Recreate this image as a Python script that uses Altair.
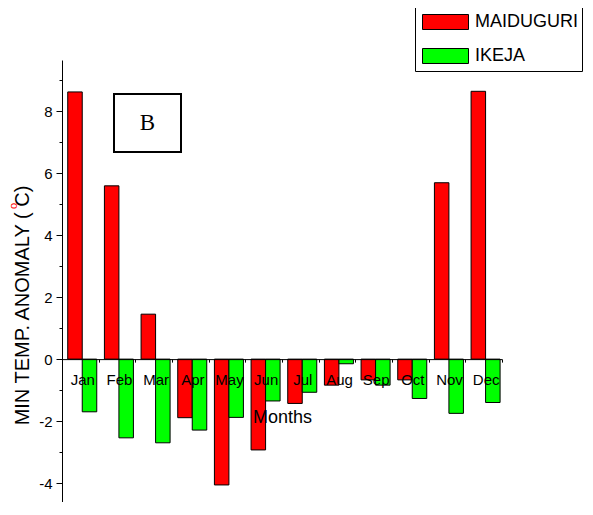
import altair as alt
import pandas as pd

months = ["Jan", "Feb", "Mar", "Apr", "May", "Jun", "Jul", "Aug", "Sep", "Oct", "Nov", "Dec"]
maiduguri = [8.62, 5.59, 1.45, -1.89, -4.06, -2.93, -1.43, -0.84, -0.67, -0.67, 5.69, 8.64]
ikeja = [-1.70, -2.54, -2.70, -2.29, -1.88, -1.35, -1.07, -0.15, -0.84, -1.27, -1.75, -1.40]
series = ["MAIDUGURI", "IKEJA"]
colors = ["#FF0000", "#00FF00"]
y_domain = [-4.61, 9.65]
y_ticks = list(range(-4, 10))
panel_label = ["B"]
degree_mark = ["o"]

SANS = "Liberation Sans, Arial"
SERIF = "Liberation Serif, Times New Roman"

df = pd.DataFrame({
    "Month": months * 2,
    "Series": [series[0]] * 12 + [series[1]] * 12,
    "Value": maiduguri + ikeja,
})

W, H = 440, 442
zero_off = H * (0 - y_domain[0]) / (y_domain[1] - y_domain[0])

bars = alt.Chart(df).mark_bar(stroke="black", strokeWidth=1).encode(
    x=alt.X(
        "Month:N", sort=months,
        scale=alt.Scale(paddingInner=0, paddingOuter=0),
        axis=alt.Axis(
            orient="bottom", offset=-zero_off, title="Months", zindex=1,
            tickBand="extent", tickSize=3, tickColor="black",
            domainColor="black", labelFont=SANS, labelFontSize=15,
            labelColor="black", labelPadding=10, labelAngle=0, labelOffset=2,
            titleFont=SANS, titleFontSize=18, titleFontWeight="normal",
            titleColor="black", titleY=58, titleBaseline="middle",
        ),
    ),
    xOffset=alt.XOffset(
        "Series:N", sort=series,
        scale=alt.Scale(paddingInner=0, paddingOuter=0.264, align=0.75),
    ),
    y=alt.Y(
        "Value:Q",
        scale=alt.Scale(domain=y_domain, nice=False, zero=False),
        axis=alt.Axis(
            values=y_ticks, grid=False,
            tickSize={"condition": {"test": "datum.value % 2 !== 0", "value": 3}, "value": 6},
            labelExpr="datum.value % 2 !== 0 ? '' : toString(datum.value)",
            tickColor="black", domainColor="black",
            labelFont=SANS, labelFontSize=15, labelColor="black", labelPadding=4,
            title="MIN TEMP. ANOMALY ( C)", titleFont=SANS, titleFontSize=20,
            titleFontWeight="normal", titleColor="black",
            titleX=-40, titleY=245, titleAlign="center", titleBaseline="middle",
        ),
    ),
    color=alt.Color(
        "Series:N", sort=series,
        scale=alt.Scale(domain=series, range=colors),
        legend=alt.Legend(
            title=None, orient="none", legendX=353, legendY=-53,
            padding=4, strokeColor="black", fillColor="white",
            symbolType="M-1,-0.326H1V0.326H-1Z", symbolSize=2116,
            symbolStrokeColor="black", symbolStrokeWidth=1, symbolOpacity=1,
            symbolOffset=3, clipHeight=22, rowPadding=12,
            labelFont=SANS, labelFontSize=18, labelColor="black",
            labelOffset=6, labelExpr="datum.label + '\u00a0\u00a0\u00a0'",
        ),
    ),
)

box_df = pd.DataFrame({"label": panel_label})
box = alt.Chart(box_df).mark_rect(fill="white", stroke="black", strokeWidth=2).encode(
    x=alt.value(52), x2=alt.value(119), y=alt.value(34), y2=alt.value(92)
)
box_text = alt.Chart(box_df).mark_text(
    font=SERIF, fontSize=23, align="center", baseline="middle", color="black"
).encode(text="label:N", x=alt.value(85.5), y=alt.value(63))

deg_df = pd.DataFrame({"mark": degree_mark})
deg = alt.Chart(deg_df).mark_text(
    font=SANS, fontSize=11, angle=270, align="center", baseline="alphabetic", color="red"
).encode(text="mark:N", x=alt.value(-44.7), y=alt.value(146))

chart = alt.layer(bars, box, box_text, deg).properties(
    width=W, height=H,
    autosize=alt.AutoSizeParams(type="none"),
    padding={"left": 54, "top": 52, "right": 83, "bottom": 0},
).configure_view(stroke=None)

chart.save("out.html", embed_options={"renderer": "svg", "actions": False})
